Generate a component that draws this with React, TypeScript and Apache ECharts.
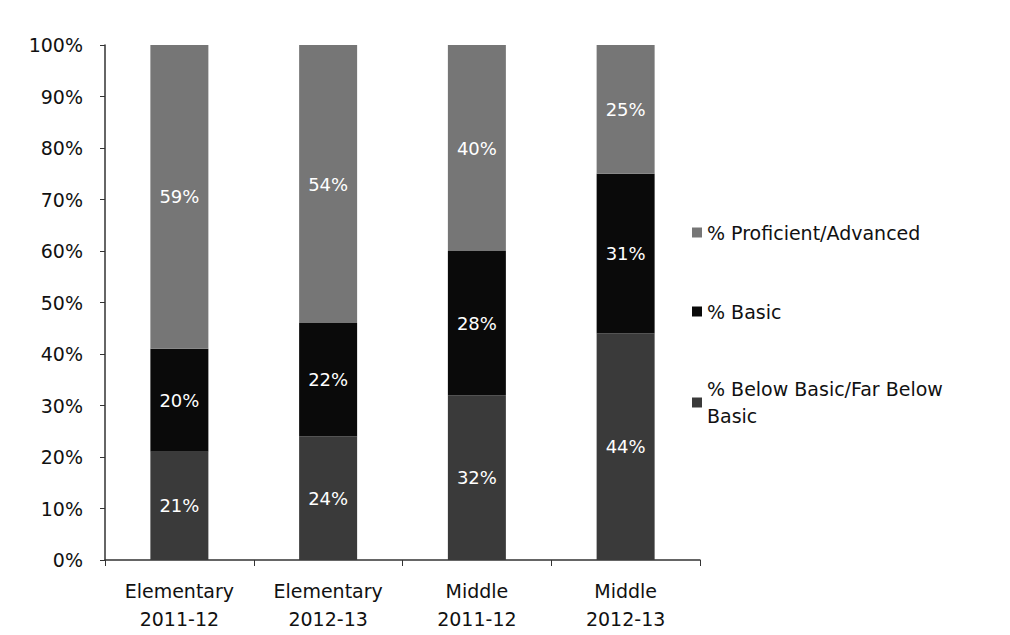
import React, { useEffect, useRef } from "react";
import * as echarts from "echarts";

const categories = ["Elementary\n2011-12", "Elementary\n2012-13", "Middle\n2011-12", "Middle\n2012-13"];
const belowBasic = [21, 24, 32, 44];
const basic = [20, 22, 28, 31];
const proficient = [59, 54, 40, 25];
const yTicks = [0, 10, 20, 30, 40, 50, 60, 70, 80, 90, 100];

const FONT = "DejaVu Sans";

export default function App() {
  const ref = useRef<HTMLDivElement>(null);
  useEffect(() => {
    if (!ref.current) return;
    const chart = echarts.init(ref.current, undefined, { renderer: "svg" });
    const label = {
      show: true,
      position: "inside",
      color: "#ffffff",
      fontFamily: FONT,
      fontSize: 18,
      formatter: (p: any) => p.value + "%",
    };
    const legendBase = {
      orient: "vertical",
      left: 687,
      icon: "rect",
      itemWidth: 10,
      itemHeight: 10,
      textStyle: { fontFamily: FONT, fontSize: 19, color: "#111" },
      selectedMode: false,
    };
    chart.setOption({
      animation: false,
      backgroundColor: "#ffffff",
      grid: { left: 105, right: 310, top: 45, bottom: 75, containLabel: false },
      legend: [
        { ...legendBase, top: 218, data: ["% Proficient/Advanced"] },
        { ...legendBase, top: 297, data: ["% Basic"] },
        {
          ...legendBase,
          top: 357,
          data: ["% Below Basic/Far Below Basic"],
          formatter: () => "% Below Basic/Far Below\nBasic",
          textStyle: { fontFamily: FONT, fontSize: 19, color: "#111", lineHeight: 27, padding: [27, 0, 0, 0] },
        },
      ],
      xAxis: {
        type: "category",
        data: categories,
        axisLine: { lineStyle: { color: "#333", width: 1.5 } },
        axisTick: { show: true, alignWithLabel: false, length: 6, lineStyle: { color: "#333" } },
        axisLabel: { fontFamily: FONT, fontSize: 19, color: "#111", lineHeight: 28, margin: 17, interval: 0 },
      },
      yAxis: {
        type: "value",
        min: 0,
        max: 100,
        interval: 10,
        axisLine: { show: true, lineStyle: { color: "#333", width: 1.5 } },
        axisTick: { show: true, length: 5, lineStyle: { color: "#333" } },
        splitLine: { show: false },
        axisLabel: {
          fontFamily: FONT,
          fontSize: 19,
          color: "#111",
          margin: 22,
          formatter: (v: number) => (yTicks.includes(v) ? v + "%" : ""),
        },
      },
      series: [
        {
          name: "% Below Basic/Far Below Basic",
          type: "bar",
          stack: "total",
          barWidth: 58,
          data: belowBasic,
          itemStyle: { color: "#3a3a3a" },
          label,
        },
        {
          name: "% Basic",
          type: "bar",
          stack: "total",
          barWidth: 58,
          data: basic,
          itemStyle: { color: "#0a0a0a" },
          label,
        },
        {
          name: "% Proficient/Advanced",
          type: "bar",
          stack: "total",
          barWidth: 58,
          data: proficient,
          itemStyle: { color: "#767676" },
          label,
        },
      ],
    });
    return () => chart.dispose();
  }, []);
  return (
    <div
      ref={ref}
      style={{ position: "fixed", left: 0, top: 0, width: 1010, height: 635, background: "#fff" }}
    />
  );
}
